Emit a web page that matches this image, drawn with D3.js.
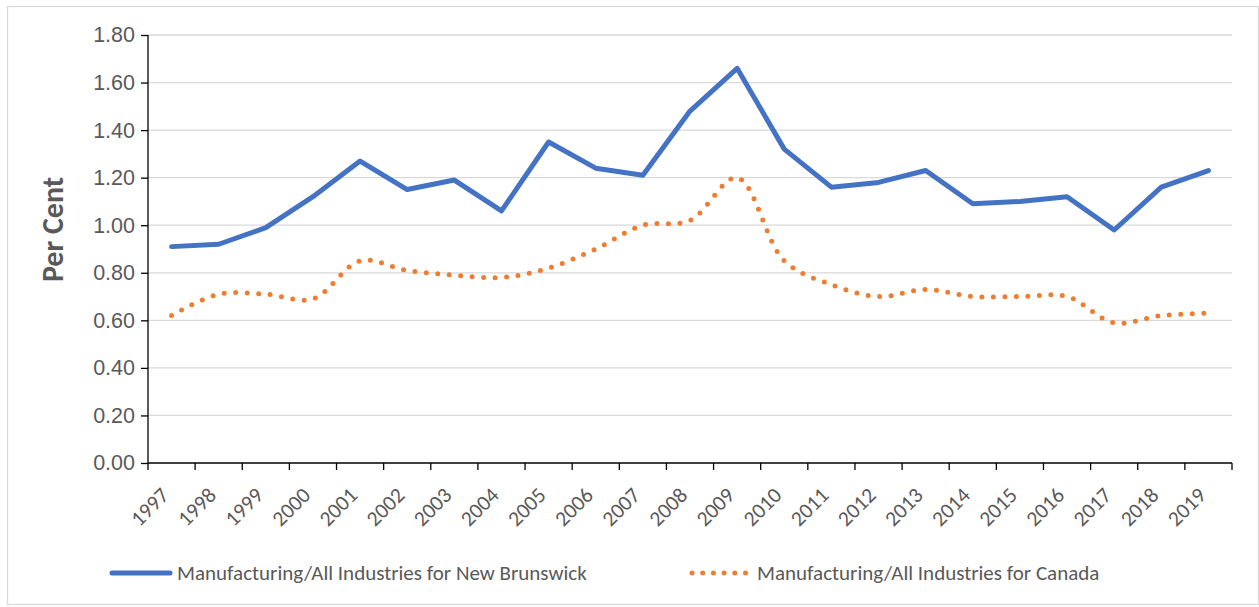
<!DOCTYPE html>
<html>
<head>
<meta charset="utf-8">
<script src="https://cdn.jsdelivr.net/npm/d3@7"></script>
<style>
	body { margin: 0; background: #fff; }
	svg { font-family: Carlito, Calibri, Lato, sans-serif; }
	.axis text { fill: #595959; font-size: 21.5px; }
	.axis path, .axis line { stroke: #000; stroke-width: 1.3; }
	.grid line { stroke: #d9d9d9; stroke-width: 1.3; }
	.legend text { fill: #595959; font-size: 21px; }
</style>
</head>
<body>
<div class="chart"></div>
<script>
const years = ['1997', '1998', '1999', '2000', '2001', '2002', '2003', '2004', '2005', '2006', '2007', '2008',
	'2009', '2010', '2011', '2012', '2013', '2014', '2015', '2016', '2017', '2018', '2019']
const newBrunswick = [0.91, 0.92, 0.99, 1.12, 1.27, 1.15, 1.19, 1.06, 1.35, 1.24, 1.21, 1.48,
	1.66, 1.32, 1.16, 1.18, 1.23, 1.09, 1.10, 1.12, 0.98, 1.16, 1.23]
const canada = [0.62, 0.71, 0.71, 0.69, 0.85, 0.81, 0.79, 0.78, 0.82, 0.90, 1.00, 1.02,
	1.20, 0.85, 0.75, 0.70, 0.73, 0.70, 0.70, 0.70, 0.59, 0.62, 0.63]
const yTicks = [0, 0.2, 0.4, 0.6, 0.8, 1.0, 1.2, 1.4, 1.6, 1.8]
const seriesNames = ['Manufacturing/All Industries for New Brunswick', 'Manufacturing/All Industries for Canada']

const W = 1259
const H = 607
const margin = { top: 35, right: 27, bottom: 144, left: 148 }
const width = W - margin.left - margin.right
const height = H - margin.top - margin.bottom

const svg = d3.select('.chart').append('svg')
	.attr('width', W)
	.attr('height', H)

// outer frame
svg.append('rect')
	.attr('x', 7.5).attr('y', 6.5)
	.attr('width', W - 8).attr('height', H - 9)
	.attr('fill', 'none')
	.attr('stroke', '#d9d9d9')
	.attr('stroke-width', 1.3)

const g = svg.append('g')
	.attr('transform', `translate(${margin.left},${margin.top})`)

const x = d3.scaleBand().domain(years).range([0, width])
const y = d3.scaleLinear().domain([0, 1.8]).range([height, 0])
const cx = d => x(d) + x.bandwidth() / 2

// gridlines
g.append('g')
	.attr('class', 'grid')
	.selectAll('line')
	.data(yTicks.slice(1))
	.enter().append('line')
		.attr('x1', 0)
		.attr('x2', width)
		.attr('y1', d => y(d))
		.attr('y2', d => y(d))

// y axis
const yAxis = g.append('g')
	.attr('class', 'axis axis--y')
	.call(d3.axisLeft(y).tickValues(yTicks).tickFormat(d3.format('.2f')).tickSize(7).tickPadding(6))
yAxis.select('.domain').attr('d', `M0,${height}V0`)

// x axis: ticks on band boundaries
const xAxis = g.append('g')
	.attr('class', 'axis axis--x')
	.attr('transform', `translate(0,${height})`)
xAxis.append('line')
	.attr('x1', 0).attr('x2', width)
xAxis.selectAll('.tick-mark')
	.data(d3.range(years.length + 1))
	.enter().append('line')
		.attr('class', 'tick-mark')
		.attr('x1', i => i === years.length ? width : x(years[i]))
		.attr('x2', i => i === years.length ? width : x(years[i]))
		.attr('y1', 0).attr('y2', 7)
xAxis.selectAll('text')
	.data(years)
	.enter().append('text')
		.attr('text-anchor', 'end')
		.attr('transform', d => `translate(${cx(d) - 12},${23}) rotate(-45)`)
		.attr('dy', '0.7em')
		.text(d => d)

// axis title
svg.append('text')
	.attr('transform', 'translate(63,229.5) rotate(-90)')
	.attr('text-anchor', 'middle')
	.attr('fill', '#595959')
	.attr('font-size', 30)
	.attr('font-weight', 'bold')
	.text('Per Cent')

// lines
const lineStraight = d3.line()
	.x((d, i) => cx(years[i]))
	.y(d => y(d))
const lineSmooth = d3.line()
	.x((d, i) => cx(years[i]))
	.y(d => y(d))
	.curve(d3.curveCatmullRom.alpha(0.5))

g.append('path')
	.datum(newBrunswick)
	.attr('fill', 'none')
	.attr('stroke', '#4472c4')
	.attr('stroke-width', 5)
	.attr('stroke-linejoin', 'round')
	.attr('stroke-linecap', 'round')
	.attr('d', lineStraight)

g.append('path')
	.datum(canada)
	.attr('fill', 'none')
	.attr('stroke', '#ed7d31')
	.attr('stroke-width', 5)
	.attr('stroke-linecap', 'round')
	.attr('stroke-dasharray', '0 11.5')
	.attr('d', lineSmooth)

// legend
const legend = svg.append('g').attr('class', 'legend')
const ly = 573
legend.append('line')
	.attr('x1', 112).attr('x2', 170)
	.attr('y1', ly).attr('y2', ly)
	.attr('stroke', '#4472c4').attr('stroke-width', 5).attr('stroke-linecap', 'round')
legend.append('text')
	.attr('x', 177).attr('y', ly).attr('dy', '0.35em')
	.text(seriesNames[0])
legend.append('line')
	.attr('x1', 692).attr('x2', 746)
	.attr('y1', ly).attr('y2', ly)
	.attr('stroke', '#ed7d31').attr('stroke-width', 5).attr('stroke-linecap', 'round')
	.attr('stroke-dasharray', '0 10.7')
legend.append('text')
	.attr('x', 757).attr('y', ly).attr('dy', '0.35em')
	.text(seriesNames[1])
</script>
</body>
</html>
